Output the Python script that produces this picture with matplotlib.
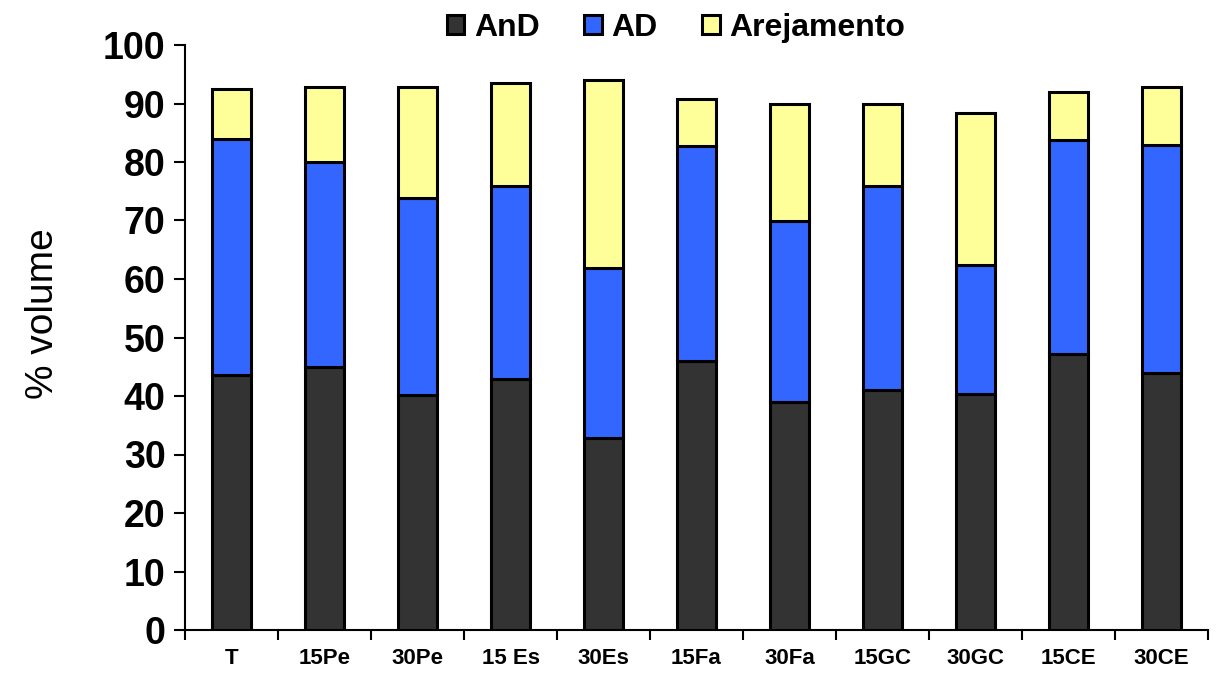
import matplotlib
matplotlib.use("Agg")
import matplotlib.pyplot as plt
import numpy as np

categories = ["T", "15Pe", "30Pe", "15 Es", "30Es", "15Fa", "30Fa", "15GC", "30GC", "15CE", "30CE"]
and_vals = [43.6, 45.0, 40.2, 42.9, 32.8, 46.0, 39.0, 41.0, 40.3, 47.2, 43.9]
ad_vals = [40.3, 35.0, 33.6, 33.0, 29.1, 36.7, 30.9, 34.9, 22.1, 36.6, 39.0]
arej_vals = [8.6, 12.8, 19.0, 17.6, 32.1, 8.1, 20.0, 14.0, 26.0, 8.2, 9.9]

colors = {"AnD": "#333333", "AD": "#3366FF", "Arejamento": "#FFFF99"}

plt.rcParams["font.family"] = ["Liberation Sans", "DejaVu Sans"]

fig = plt.figure(figsize=(12.18, 6.76), dpi=100)
ax = fig.add_axes([185 / 1218, 46 / 676, (1208 - 185) / 1218, (630 - 45) / 676])

x = np.arange(len(categories))
w = 0.41
and_arr = np.array(and_vals)
ad_arr = np.array(ad_vals)
arej_arr = np.array(arej_vals)

ax.bar(x, and_arr, w, color=colors["AnD"], edgecolor="black", linewidth=2.2, label="AnD", zorder=3)
ax.bar(x, ad_arr, w, bottom=and_arr, color=colors["AD"], edgecolor="black", linewidth=2.2, label="AD", zorder=3)
ax.bar(x, arej_arr, w, bottom=and_arr + ad_arr, color=colors["Arejamento"], edgecolor="black",
       linewidth=2.2, label="Arejamento", zorder=3)

ax.set_xlim(-0.5, len(categories) - 0.5)
ax.set_ylim(0, 100)
ax.set_yticks(np.arange(0, 101, 10))
ax.set_yticklabels([str(v) for v in range(0, 101, 10)], fontsize=27, fontweight="bold")
ax.set_xticks(x)
ax.set_xticklabels(categories, fontsize=16, fontweight="bold")
ax.set_xticks(np.arange(-0.5, len(categories), 1.0), minor=True)
ax.tick_params(axis="x", which="major", length=0, pad=13)
ax.tick_params(axis="x", which="minor", length=7, width=1.5, direction="out")
ax.tick_params(axis="y", which="major", length=8, width=1.5, direction="out", pad=6)

for side in ("top", "right"):
    ax.spines[side].set_visible(False)
for side in ("left", "bottom"):
    ax.spines[side].set_linewidth(1.5)

ax.set_ylabel("% volume", fontsize=28)
ax.yaxis.set_label_coords(-0.121, 0.54)

handles, labels = ax.get_legend_handles_labels()
fig.legend(handles, labels, loc="upper center", bbox_to_anchor=(676 / 1218, 1.0), ncol=3,
           frameon=False, prop={"size": 23, "weight": "bold"}, handlelength=0.55,
           handleheight=0.55, handletextpad=0.3, columnspacing=1.4, borderaxespad=0)

fig.savefig("out.png", dpi=100)
